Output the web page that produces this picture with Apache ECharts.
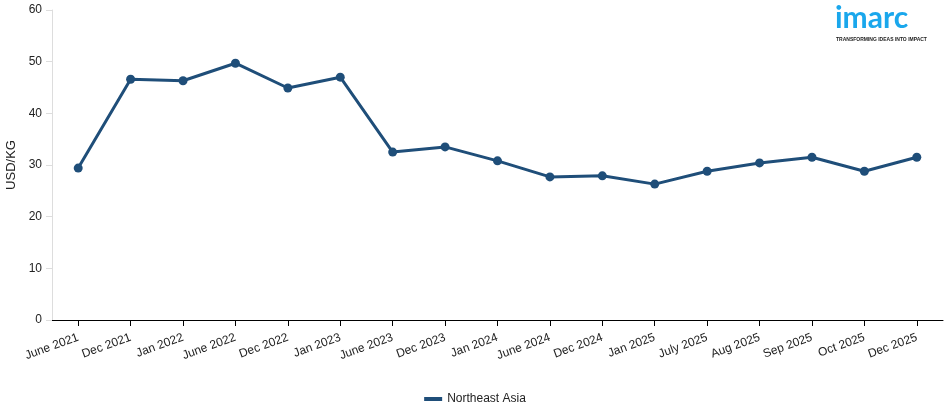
<!DOCTYPE html>
<html>
<head>
<meta charset="utf-8">
<script src="https://cdn.jsdelivr.net/npm/echarts@6/dist/echarts.min.js"></script>
<style>
  html, body { margin: 0; padding: 0; background: #fff; }
  #chart { width: 950px; height: 414px; }
</style>
</head>
<body>
<div id="chart"></div>
<script>
// 分类与数值
const categories = ['June 2021', 'Dec 2021', 'Jan 2022', 'June 2022', 'Dec 2022', 'Jan 2023',
  'June 2023', 'Dec 2023', 'Jan 2024', 'June 2024', 'Dec 2024', 'Jan 2025',
  'July 2025', 'Aug 2025', 'Sep 2025', 'Oct 2025', 'Dec 2025']
const northeastAsia = [29.4, 46.6, 46.3, 49.7, 44.9, 47.0, 32.5, 33.5, 30.8, 27.7, 27.9, 26.3,
  28.8, 30.4, 31.5, 28.8, 31.5]
const yTicks = [0, 10, 20, 30, 40, 50, 60]

const lineColor = '#1f4e79'
const chart = echarts.init(document.getElementById('chart'))

chart.setOption({
  animation: false,
  textStyle: { fontFamily: 'Liberation Sans, Arial, sans-serif' },
  grid: { left: 52, right: 7, top: 10, bottom: 94, containLabel: false, outerBoundsMode: 'none' },
  legend: {
    bottom: 4,
    left: 'center',
    itemWidth: 18,
    itemHeight: 4,
    icon: 'rect',
    textStyle: { color: '#222', fontSize: 12 },
    data: ['Northeast Asia']
  },
  graphic: [
    {
      type: 'text',
      left: 835,
      top: 3,
      style: { text: 'imarc', fill: '#1aa7ec', font: 'bold 30px Lato, Open Sans, sans-serif' }
    },
    {
      type: 'text',
      left: 836,
      top: 37,
      style: { text: 'TRANSFORMING IDEAS INTO IMPACT', fill: '#222', font: 'bold 5px Liberation Sans, Arial, sans-serif' }
    }
  ],
  xAxis: {
    type: 'category',
    data: categories,
    boundaryGap: true,
    axisLine: { lineStyle: { color: '#000', width: 1 } },
    axisTick: { show: true, alignWithLabel: true, length: 6, lineStyle: { color: '#000' } },
    axisLabel: { rotate: 20, color: '#222', fontSize: 12, margin: 17, interval: 0 }
  },
  yAxis: {
    type: 'value',
    min: 0,
    max: 60,
    interval: 10,
    name: 'USD/KG',
    nameLocation: 'middle',
    nameGap: 32,
    nameTextStyle: { color: '#222', fontSize: 13 },
    axisLine: { show: true, lineStyle: { color: '#ddd' } },
    axisTick: { show: true, length: 6, lineStyle: { color: '#ddd' } },
    splitLine: { show: false },
    axisLabel: {
      color: '#222', fontSize: 12, margin: 10,
      formatter: v => (yTicks.includes(v) ? String(v) : '')
    }
  },
  series: [
    {
      name: 'Northeast Asia',
      type: 'line',
      data: northeastAsia,
      symbol: 'circle',
      symbolSize: 9,
      itemStyle: { color: lineColor },
      lineStyle: { color: lineColor, width: 3 }
    }
  ]
})
</script>
</body>
</html>
